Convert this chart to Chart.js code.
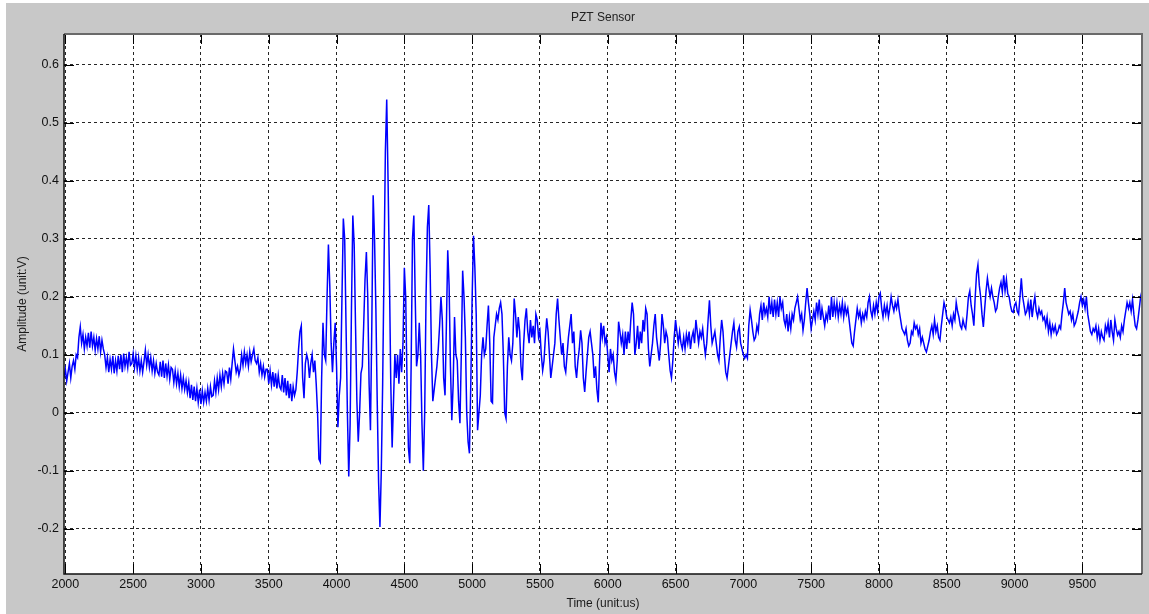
<!DOCTYPE html>
<html>
<head>
<meta charset="utf-8">
<title>PZT Sensor</title>
<script src="https://cdn.jsdelivr.net/npm/chart.js@4.4.1/dist/chart.umd.min.js"></script>
<style>
  html, body { margin: 0; padding: 0; background: #fff; }
  #frame { position: absolute; left: 6px; top: 3px; width: 1143px; height: 611px; background: #c8c8c8; }
</style>
</head>
<body>
<div id="frame"><canvas id="pztChart"></canvas></div>
<script>
// sampling of the trace (us)
const TIME_START = 1990;
const TIME_STEP = 10;

// amplitude (V), one row per 100 us
const AMPLITUDE = [
  0.06, 0.075, 0.055, 0.07, 0.085, 0.06, 0.08, 0.09, 0.075, 0.1,
  0.095, 0.13, 0.148, 0.12, 0.135, 0.11, 0.13, 0.115, 0.138, 0.112,
  0.14, 0.115, 0.13, 0.108, 0.128, 0.11, 0.132, 0.105, 0.125, 0.11,
  0.1, 0.078, 0.095, 0.07, 0.092, 0.075, 0.098, 0.068, 0.09, 0.072,
  0.098, 0.075, 0.1, 0.07, 0.102, 0.08, 0.095, 0.078, 0.105, 0.082,
  0.085, 0.102, 0.078, 0.098, 0.075, 0.095, 0.072, 0.09, 0.07, 0.088,
  0.108, 0.082, 0.1, 0.078, 0.095, 0.072, 0.09, 0.068, 0.085, 0.07,
  0.065, 0.088, 0.062, 0.09, 0.06, 0.085, 0.063, 0.082, 0.058, 0.078,
  0.075, 0.052, 0.072, 0.05, 0.068, 0.045, 0.065, 0.042, 0.06, 0.04,
  0.055, 0.035, 0.052, 0.025, 0.048, 0.022, 0.045, 0.02, 0.042, 0.018,
  0.04, 0.015, 0.038, 0.018, 0.035, 0.02, 0.042, 0.022, 0.045, 0.028,
  0.03, 0.055, 0.035, 0.06, 0.04, 0.065, 0.045, 0.068, 0.05, 0.072,
  0.07, 0.05, 0.078, 0.058, 0.085, 0.11, 0.09, 0.07, 0.08, 0.065,
  0.075, 0.1, 0.082, 0.105, 0.085, 0.1, 0.08, 0.105, 0.088, 0.1,
  0.11, 0.09, 0.085, 0.095, 0.07, 0.085, 0.065, 0.08, 0.062, 0.075,
  0.075, 0.05, 0.072, 0.048, 0.07, 0.045, 0.068, 0.042, 0.065, 0.045,
  0.04, 0.065, 0.035, 0.06, 0.03, 0.055, 0.025, 0.05, 0.02, 0.045,
  0.03, 0.04, 0.07, 0.11, 0.14, 0.15, 0.06, 0.025, 0.085, 0.1,
  0.09, 0.06, 0.085, 0.1, 0.07, 0.09, 0.05, 0.0, -0.08, -0.085,
  0.06, 0.155, 0.1, 0.09, 0.2, 0.29, 0.22, 0.12, 0.07, 0.12,
  0.155, 0.08, -0.025, 0.03, 0.06, 0.2, 0.335, 0.3, 0.15, 0.0,
  -0.11, -0.02, 0.18, 0.34, 0.29, 0.15, 0.02, -0.05, 0.0, 0.068,
  0.08, 0.15, 0.23, 0.277, 0.2, 0.05, -0.03, 0.15, 0.375, 0.3,
  0.18, 0.02, -0.12, -0.197, -0.1, 0.05, 0.25, 0.45, 0.54, 0.4,
  0.234, 0.05, -0.06, 0.02, 0.1, 0.06, 0.1, 0.05, 0.11, 0.07,
  0.12, 0.25, 0.2, 0.05, -0.06, -0.087, 0.08, 0.3, 0.34, 0.2,
  0.08, 0.1, 0.155, 0.1, -0.02, -0.1, 0.0, 0.2, 0.32, 0.358,
  0.25, 0.1, 0.02, 0.04, 0.06, 0.08, 0.11, 0.15, 0.2, 0.16,
  0.06, 0.03, 0.15, 0.28, 0.22, 0.08, -0.013, 0.05, 0.165, 0.1,
  0.09, 0.02, -0.018, 0.1, 0.245, 0.2, 0.13, 0.0, -0.05, -0.07,
  0.05, 0.2, 0.305, 0.25, 0.17, -0.03, 0.0, 0.03, 0.1, 0.13,
  0.1, 0.11, 0.15, 0.185, 0.12, 0.02, 0.017, 0.13, 0.15, 0.17,
  0.16, 0.18, 0.19, 0.17, 0.1, 0.0, -0.01, 0.08, 0.13, 0.1,
  0.09, 0.12, 0.197, 0.17, 0.13, 0.165, 0.14, 0.08, 0.056, 0.12,
  0.16, 0.18, 0.14, 0.12, 0.16, 0.13, 0.15, 0.12, 0.17, 0.16,
  0.13, 0.14, 0.1, 0.073, 0.09, 0.13, 0.163, 0.14, 0.1, 0.06,
  0.08, 0.1, 0.12, 0.17, 0.197, 0.16, 0.13, 0.1, 0.12, 0.08,
  0.07, 0.1, 0.13, 0.15, 0.17, 0.12, 0.14, 0.08, 0.06, 0.09,
  0.11, 0.142, 0.12, 0.06, 0.036, 0.07, 0.1, 0.13, 0.14, 0.12,
  0.1, 0.06, 0.08, 0.04, 0.018, 0.09, 0.155, 0.13, 0.15, 0.12,
  0.13, 0.1, 0.07, 0.11, 0.09, 0.1, 0.07, 0.056, 0.09, 0.157,
  0.14, 0.12, 0.135, 0.1, 0.14, 0.11, 0.14, 0.12, 0.16, 0.19,
  0.17, 0.1, 0.12, 0.15, 0.11, 0.14, 0.12, 0.16, 0.14, 0.18,
  0.17, 0.11, 0.08, 0.1, 0.12, 0.15, 0.17, 0.13, 0.11, 0.09,
  0.12, 0.17, 0.15, 0.12, 0.14, 0.13, 0.1, 0.073, 0.06, 0.09,
  0.13, 0.16, 0.14, 0.12, 0.14, 0.12, 0.11, 0.13, 0.11, 0.135,
  0.12, 0.14, 0.11, 0.13, 0.14, 0.12, 0.16, 0.14, 0.12, 0.14,
  0.13, 0.145, 0.12, 0.1, 0.12, 0.16, 0.194, 0.15, 0.12, 0.13,
  0.14, 0.12, 0.1, 0.09, 0.13, 0.16, 0.14, 0.1, 0.07, 0.06,
  0.08, 0.1, 0.12, 0.14, 0.155, 0.125, 0.113, 0.14, 0.148, 0.12,
  0.11, 0.1, 0.094, 0.1, 0.094, 0.15, 0.177, 0.16, 0.14, 0.125,
  0.13, 0.15, 0.14, 0.17, 0.185, 0.16, 0.19, 0.17, 0.18, 0.165,
  0.2, 0.17, 0.19, 0.165, 0.195, 0.17, 0.19, 0.165, 0.2, 0.18,
  0.19, 0.16, 0.15, 0.17, 0.14, 0.165, 0.145, 0.17, 0.16, 0.18,
  0.19, 0.2, 0.18, 0.16, 0.17, 0.142, 0.16, 0.19, 0.215, 0.19,
  0.17, 0.145, 0.16, 0.175, 0.16, 0.19, 0.17, 0.195, 0.16, 0.18,
  0.165, 0.15, 0.17, 0.16, 0.185, 0.16, 0.2, 0.165, 0.19, 0.17,
  0.19, 0.165, 0.185, 0.17, 0.19, 0.165, 0.185, 0.17, 0.18, 0.16,
  0.14, 0.12, 0.115, 0.14, 0.16, 0.18, 0.165, 0.175, 0.155, 0.17,
  0.16, 0.175, 0.165, 0.19, 0.2, 0.175, 0.165, 0.185, 0.17, 0.19,
  0.175, 0.2, 0.206, 0.18, 0.165, 0.185, 0.17, 0.185, 0.165, 0.18,
  0.2, 0.185, 0.175, 0.19, 0.18, 0.195, 0.175, 0.16, 0.145, 0.14,
  0.135, 0.145, 0.125, 0.115, 0.12, 0.14, 0.135, 0.155, 0.145, 0.15,
  0.135, 0.145, 0.12, 0.13, 0.12, 0.11, 0.105, 0.115, 0.125, 0.14,
  0.15, 0.135, 0.16, 0.14, 0.15, 0.13, 0.125, 0.15, 0.17, 0.19,
  0.18, 0.165, 0.16, 0.155, 0.165, 0.15, 0.17, 0.16, 0.19, 0.175,
  0.165, 0.15, 0.145, 0.16, 0.15, 0.145, 0.17, 0.2, 0.21, 0.185,
  0.17, 0.15, 0.2, 0.24, 0.255, 0.22, 0.2, 0.17, 0.148, 0.18,
  0.21, 0.232, 0.215, 0.2, 0.215, 0.2, 0.19, 0.175, 0.18, 0.2,
  0.215, 0.225, 0.208, 0.237, 0.21, 0.23, 0.205, 0.2, 0.185, 0.175,
  0.173, 0.185, 0.19, 0.175, 0.17, 0.2, 0.232, 0.2, 0.185, 0.17,
  0.175, 0.19, 0.17, 0.195, 0.165, 0.185, 0.2, 0.175, 0.165, 0.18,
  0.17, 0.175, 0.16, 0.165, 0.15, 0.165, 0.14, 0.155, 0.135, 0.15,
  0.14, 0.15, 0.135, 0.14, 0.15, 0.145, 0.17, 0.19, 0.215, 0.19,
  0.18, 0.17, 0.175, 0.16, 0.17, 0.15, 0.155, 0.165, 0.175, 0.19,
  0.2, 0.185, 0.195, 0.18, 0.2, 0.17, 0.155, 0.14, 0.135, 0.145,
  0.14, 0.15, 0.13, 0.145, 0.125, 0.14, 0.13, 0.125, 0.15, 0.14,
  0.155, 0.13, 0.16, 0.14, 0.125, 0.16, 0.145, 0.134, 0.14, 0.13,
  0.15, 0.14, 0.16, 0.175, 0.19, 0.18, 0.19, 0.175, 0.195, 0.17,
  0.15, 0.145, 0.16, 0.18, 0.2, 0.21
];

const X_TICKS = [2000, 2500, 3000, 3500, 4000, 4500, 5000, 5500, 6000, 6500, 7000, 7500, 8000, 8500, 9000, 9500];
const Y_TICKS = [-0.2, -0.1, 0, 0.1, 0.2, 0.3, 0.4, 0.5, 0.6];
const Y_TICK_LABELS = ["-0.2", "-0.1", "0", "0.1", "0.2", "0.3", "0.4", "0.5", "0.6"];
const X_RANGE = [1990, 9940];
const Y_RANGE = [-0.278, 0.653];

const CHART_TITLE = "PZT Sensor";
const X_TITLE = "Time (unit:us)";
const Y_TITLE = "Amplitude (unit:V)";

const FONT = "'Liberation Sans', Arial, Helvetica, sans-serif";
const TICK_LEN = 10;

// white plot box, MATLAB-like frame with inward ticks, title over the axes
const matlabFrame = {
  id: "matlabFrame",
  beforeDraw(chart) {
    const { ctx, chartArea: a } = chart;
    ctx.save();
    ctx.fillStyle = "#ffffff";
    ctx.fillRect(a.left, a.top, a.right - a.left, a.bottom - a.top);
    ctx.restore();
  },
  afterDraw(chart) {
    const { ctx, chartArea: a, scales } = chart;
    ctx.save();
    ctx.strokeStyle = "#000";
    ctx.lineWidth = 1;
    ctx.beginPath();
    X_TICKS.forEach(v => {
      const px = Math.round(scales.x.getPixelForValue(v)) + 0.5;
      ctx.moveTo(px, a.bottom); ctx.lineTo(px, a.bottom - TICK_LEN);
      ctx.moveTo(px, a.top); ctx.lineTo(px, a.top + TICK_LEN);
    });
    Y_TICKS.forEach(v => {
      const py = Math.round(scales.y.getPixelForValue(v)) + 0.5;
      ctx.moveTo(a.left, py); ctx.lineTo(a.left + TICK_LEN, py);
      ctx.moveTo(a.right, py); ctx.lineTo(a.right - TICK_LEN, py);
    });
    ctx.stroke();

    ctx.strokeStyle = "#6a6a6a";
    ctx.lineWidth = 2;
    ctx.beginPath();
    ctx.moveTo(a.left, a.top); ctx.lineTo(a.right, a.top); ctx.lineTo(a.right, a.bottom);
    ctx.stroke();
    ctx.strokeStyle = "#111";
    ctx.lineWidth = 1.5;
    ctx.beginPath();
    ctx.moveTo(a.left, a.top); ctx.lineTo(a.left, a.bottom); ctx.lineTo(a.right, a.bottom);
    ctx.stroke();

    ctx.fillStyle = "#222";
    ctx.font = "12px " + FONT;
    ctx.textAlign = "center";
    ctx.textBaseline = "middle";
    ctx.fillText(CHART_TITLE, (a.left + a.right) / 2, 15);
    ctx.restore();
  }
};

function buildPoints() {
  return AMPLITUDE.map((v, i) => ({ x: TIME_START + i * TIME_STEP, y: v }));
}

function renderChart() {
  const ctx = document.getElementById("pztChart").getContext("2d");
  new Chart(ctx, {
    type: "line",
    data: {
      datasets: [{
        label: "PZT",
        data: buildPoints(),
        borderColor: "#0000ff",
        borderWidth: 1.5,
        pointRadius: 0,
        tension: 0,
        fill: false,
      }]
    },
    options: {
      responsive: true,
      maintainAspectRatio: false,
      animation: false,
      layout: { padding: { left: 0, top: 31, right: 7, bottom: 0 } },
      plugins: { legend: { display: false }, title: { display: false }, tooltip: { enabled: false } },
      scales: {
        x: {
          type: "linear",
          min: X_RANGE[0],
          max: X_RANGE[1],
          afterBuildTicks: s => { s.ticks = X_TICKS.map(v => ({ value: v })); },
          afterFit: s => { s.height = 40; },
          ticks: {
            color: "#111",
            padding: 3,
            maxRotation: 0,
            autoSkip: false,
            font: { family: FONT, size: 12.5 },
            callback: v => String(v),
          },
          grid: { color: "rgba(0,0,0,0.85)", lineWidth: 1, drawTicks: false },
          border: { display: false, dash: [3, 3] },
          title: {
            display: true, text: X_TITLE, color: "#1a1a1a",
            font: { family: FONT, size: 12 }, padding: { top: 0, bottom: 3 },
          },
        },
        y: {
          type: "linear",
          min: Y_RANGE[0],
          max: Y_RANGE[1],
          afterBuildTicks: s => { s.ticks = Y_TICKS.map(v => ({ value: v })); },
          afterFit: s => { s.width = 58; },
          ticks: {
            color: "#111",
            padding: 5,
            autoSkip: false,
            font: { family: FONT, size: 12.5 },
            callback: (v, i) => Y_TICK_LABELS[i],
          },
          grid: { color: "rgba(0,0,0,0.85)", lineWidth: 1, drawTicks: false },
          border: { display: false, dash: [3, 3] },
          title: {
            display: true, text: Y_TITLE, color: "#1a1a1a",
            font: { family: FONT, size: 12 }, padding: { top: 9, bottom: 0 },
          },
        },
      },
    },
    plugins: [matlabFrame],
  });
}

document.addEventListener("DOMContentLoaded", renderChart);
</script>
</body>
</html>
